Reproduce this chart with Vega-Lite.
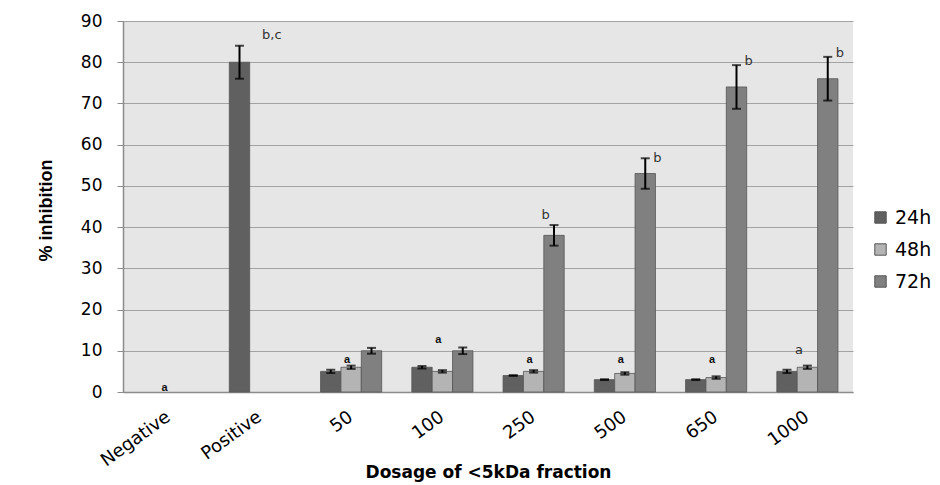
{
  "$schema": "https://vega.github.io/schema/vega-lite/v6.json",
  "width": 730,
  "height": 371,
  "autosize": {"type": "none"},
  "padding": {"left": 123, "top": 21, "right": 87, "bottom": 93},
  "background": "white",
  "config": {
    "view": {"fill": "#e6e6e6", "stroke": null},
    "font": "Liberation Sans"
  },
  "datasets": {
    "bars": [
      {"dose": "Positive", "series": "24h", "value": 80, "lo": 76, "hi": 84},
      {"dose": "50", "series": "24h", "value": 5, "lo": 4.6, "hi": 5.4},
      {"dose": "50", "series": "48h", "value": 6, "lo": 5.6, "hi": 6.4},
      {"dose": "50", "series": "72h", "value": 10, "lo": 9.3, "hi": 10.7},
      {"dose": "100", "series": "24h", "value": 6, "lo": 5.7, "hi": 6.3},
      {"dose": "100", "series": "48h", "value": 5, "lo": 4.7, "hi": 5.3},
      {"dose": "100", "series": "72h", "value": 10, "lo": 9.2, "hi": 10.8},
      {"dose": "250", "series": "24h", "value": 4, "lo": 3.9, "hi": 4.1},
      {"dose": "250", "series": "48h", "value": 5, "lo": 4.7, "hi": 5.3},
      {"dose": "250", "series": "72h", "value": 38, "lo": 35.5, "hi": 40.5},
      {"dose": "500", "series": "24h", "value": 3, "lo": 2.9, "hi": 3.1},
      {"dose": "500", "series": "48h", "value": 4.5, "lo": 4.2, "hi": 4.8},
      {"dose": "500", "series": "72h", "value": 53, "lo": 49.3, "hi": 56.7},
      {"dose": "650", "series": "24h", "value": 3, "lo": 2.9, "hi": 3.1},
      {"dose": "650", "series": "48h", "value": 3.5, "lo": 3.2, "hi": 3.8},
      {"dose": "650", "series": "72h", "value": 74, "lo": 68.7, "hi": 79.3},
      {"dose": "1000", "series": "24h", "value": 5, "lo": 4.6, "hi": 5.4},
      {"dose": "1000", "series": "48h", "value": 6, "lo": 5.6, "hi": 6.4},
      {"dose": "1000", "series": "72h", "value": 76, "lo": 70.7, "hi": 81.3}
    ],
    "bold_labels": [
      {"dose": "Negative", "anchor": "48h", "y": 0.9, "label": "a"},
      {"dose": "50", "anchor": "48h", "y": 7.85, "label": "a"},
      {"dose": "100", "anchor": "48h", "y": 12.5, "label": "a"},
      {"dose": "250", "anchor": "48h", "y": 7.85, "label": "a"},
      {"dose": "500", "anchor": "48h", "y": 7.85, "label": "a"},
      {"dose": "650", "anchor": "48h", "y": 7.85, "label": "a"}
    ],
    "plain_labels": [
      {"dose": "Positive", "anchor": "48h", "y": 86.6, "label": "b,c"},
      {"dose": "250", "anchor": "48h", "y": 42.9, "label": "b"},
      {"dose": "500", "anchor": "72h", "y": 56.7, "label": "b"},
      {"dose": "650", "anchor": "72h", "y": 80.2, "label": "b"},
      {"dose": "1000", "anchor": "72h", "y": 82.3, "label": "b"},
      {"dose": "1000", "anchor": "24h", "y": 10.3, "label": "a"}
    ]
  },
  "encoding": {
    "x": {
      "field": "dose",
      "type": "nominal",
      "title": "Dosage of <5kDa fraction",
      "scale": {
        "domain": ["Negative", "Positive", "50", "100", "250", "500", "650", "1000"],
        "paddingInner": 0.33,
        "paddingOuter": 0.165
      },
      "axis": {
        "labelAngle": -36,
        "labelAlign": "right",
        "labelBaseline": "middle",
        "labelFont": "DejaVu Sans",
        "labelFontSize": 18,
        "labelColor": "#000000",
        "labelPadding": 23,
        "ticks": false,
        "domainColor": "#8c8c8c",
        "domainWidth": 1.5,
        "titleFont": "DejaVu Sans",
        "titleFontSize": 17,
        "titleFontWeight": "bold",
        "titleColor": "#000000",
        "titleY": 72,
        "titleBaseline": "top"
      }
    },
    "y": {
      "type": "quantitative",
      "scale": {"domain": [0, 90]},
      "title": "% inhibition",
      "axis": {
        "values": [0, 10, 20, 30, 40, 50, 60, 70, 80, 90],
        "grid": true,
        "gridColor": "#a3a3a3",
        "gridWidth": 1.2,
        "domainColor": "#8c8c8c",
        "domainWidth": 1.5,
        "tickColor": "#8c8c8c",
        "tickSize": 6,
        "labelFont": "DejaVu Sans",
        "labelFontSize": 17,
        "labelColor": "#000000",
        "labelPadding": 15,
        "titleFontSize": 18,
        "titleFontWeight": "bold",
        "titleColor": "#000000",
        "titleX": -77,
        "titleY": 189,
        "titleBaseline": "middle"
      }
    }
  },
  "layer": [
    {
      "data": {"name": "bars"},
      "mark": {"type": "bar", "stroke": "#555555", "strokeWidth": 0.8},
      "encoding": {
        "y": {"field": "value", "type": "quantitative"},
        "xOffset": {"field": "series", "type": "nominal", "scale": {"domain": ["24h", "48h", "72h"], "paddingInner": 0, "paddingOuter": 0}},
        "color": {
          "field": "series",
          "type": "nominal",
          "scale": {"domain": ["24h", "48h", "72h"], "range": ["#606060", "#b4b4b4", "#808080"]},
          "legend": {
            "title": null,
            "orient": "none",
            "legendX": 748,
            "legendY": 187,
            "symbolType": "square",
            "symbolSize": 130,
            "symbolStrokeColor": "#555555",
            "symbolStrokeWidth": 1,
            "labelFont": "DejaVu Sans",
            "labelFontSize": 19,
            "labelColor": "#000000",
            "labelOffset": 5,
            "rowPadding": 12
          }
        }
      }
    },
    {
      "data": {"name": "bars"},
      "mark": {"type": "rule", "color": "#000000", "strokeWidth": 2},
      "encoding": {
        "y": {"field": "lo", "type": "quantitative"},
        "y2": {"field": "hi"},
        "xOffset": {"field": "series", "type": "nominal"}
      }
    },
    {
      "data": {"name": "bars"},
      "mark": {"type": "tick", "color": "#000000", "size": 9, "thickness": 2},
      "encoding": {
        "y": {"field": "lo", "type": "quantitative"},
        "xOffset": {"field": "series", "type": "nominal"}
      }
    },
    {
      "data": {"name": "bars"},
      "mark": {"type": "tick", "color": "#000000", "size": 9, "thickness": 2},
      "encoding": {
        "y": {"field": "hi", "type": "quantitative"},
        "xOffset": {"field": "series", "type": "nominal"}
      }
    },
    {
      "data": {"name": "bold_labels"},
      "mark": {"type": "text", "fontSize": 11, "fontWeight": "bold", "color": "#111111", "dx": -4, "baseline": "middle"},
      "encoding": {
        "y": {"field": "y", "type": "quantitative"},
        "xOffset": {"field": "anchor", "type": "nominal"},
        "text": {"field": "label"}
      }
    },
    {
      "data": {"name": "plain_labels"},
      "mark": {"type": "text", "font": "DejaVu Sans", "fontSize": 13, "color": "#333333", "dx": 12, "baseline": "middle"},
      "encoding": {
        "y": {"field": "y", "type": "quantitative"},
        "xOffset": {"field": "anchor", "type": "nominal"},
        "text": {"field": "label"}
      }
    }
  ]
}
